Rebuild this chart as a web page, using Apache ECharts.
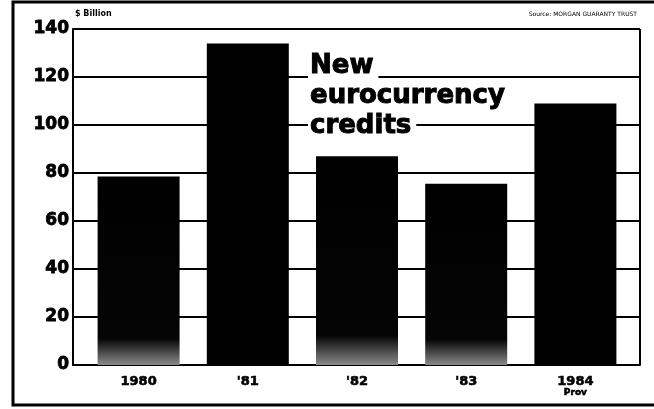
<!DOCTYPE html>
<html>
<head>
<meta charset="utf-8">
<script src="https://cdn.jsdelivr.net/npm/echarts@6/dist/echarts.min.js"></script>
<style>
html,body{margin:0;padding:0;background:#fff;}
#c{width:654px;height:409px;}
</style>
</head>
<body>
<div id="c"></div>
<script>
var categories = ['1980', "'81", "'82", "'83", '1984'];
var values = [78.5, 134, 87, 75.5, 109];
var faded = [true, false, true, true, false];
var yTicks = [0, 20, 40, 60, 80, 100, 120, 140];
var titleLines = ['New', 'eurocurrency', 'credits'];
var unitLabel = '$ Billion';
var sourceLabel = 'Source: MORGAN GUARANTY TRUST';

var chart = echarts.init(document.getElementById('c'), null, {renderer: 'canvas'});

var barData = values.map(function (v, i) {
  var item = {value: v};
  if (faded[i]) {
    item.itemStyle = {
      color: new echarts.graphic.LinearGradient(0, 0, 0, 1, [
        {offset: 0, color: '#000'},
        {offset: 0.86, color: '#050505'},
        {offset: 1, color: '#8a8a8a'}
      ])
    };
  }
  return item;
});

var option = {
  backgroundColor: '#fff',
  animation: false,
  grid: [
    {left: 73, right: 14, top: 29, bottom: 44, containLabel: false},
    {left: 84, right: 24, top: 29, bottom: 44, containLabel: false}
  ],
  title: {
    left: 303,
    top: 46,
    text: titleLines.map(function (t) { return '{a|' + t + '}'; }).join('\n'),
    textStyle: {
      rich: {
        a: {
          fontFamily: 'DejaVu Sans',
          fontWeight: 'bold',
          fontSize: 26,
          lineHeight: 30,
          color: '#000',
          backgroundColor: '#fff',
          padding: [0, 5, 0, 2],
          textBorderColor: '#000',
          textBorderWidth: 1
        }
      }
    },
    z: 10
  },
  xAxis: [
    {
      gridIndex: 0,
      type: 'value',
      min: 0, max: 1,
      axisLine: {show: true, onZero: false, lineStyle: {color: '#000', width: 2}},
      axisTick: {show: false},
      axisLabel: {show: false},
      splitLine: {show: false}
    },
    {
      gridIndex: 1,
      type: 'category',
      data: categories,
      axisLine: {show: false},
      axisTick: {show: false},
      axisLabel: {
        color: '#000',
        fontFamily: 'DejaVu Sans',
        fontWeight: 'bold',
        fontSize: 13,
        margin: 10,
        lineHeight: 13,
        textBorderColor: '#000',
        textBorderWidth: 0.6,
        formatter: function (v) {
          return v === '1984' ? v + '\n{s|Prov}' : v;
        },
        rich: {
          s: {fontFamily: 'DejaVu Sans', fontWeight: 'bold', fontSize: 9, lineHeight: 9, color: '#000'}
        }
      }
    }
  ],
  yAxis: [
    {
      gridIndex: 0,
      type: 'value',
      min: 0,
      max: 140,
      interval: 20,
      axisLine: {show: true, lineStyle: {color: '#000', width: 2}},
      axisTick: {show: false},
      splitLine: {show: true, lineStyle: {color: '#000', width: 2}},
      axisLabel: {
        color: '#000',
        fontFamily: 'DejaVu Sans',
        fontWeight: 'bold',
        fontSize: 17,
        margin: 4,
        textBorderColor: '#000',
        textBorderWidth: 0.8,
        formatter: function (v) { return yTicks.indexOf(v) >= 0 ? String(v) : ''; }
      }
    },
    {
      gridIndex: 1,
      type: 'value',
      min: 0,
      max: 140,
      interval: 20,
      show: false,
      splitLine: {show: false}
    }
  ],
  series: [{
    type: 'bar',
    xAxisIndex: 1,
    yAxisIndex: 1,
    data: barData,
    barWidth: 82,
    itemStyle: {color: '#000'},
    z: 3
  }],
  graphic: [
    {type: 'line', shape: {x1: 640, y1: 29, x2: 640, y2: 365}, style: {stroke: '#000', lineWidth: 2}, z: 5},
    {type: 'rect', shape: {x: 13, y: 2, width: 660, height: 403}, style: {fill: 'none', stroke: '#000', lineWidth: 3}, z: 5},
    {type: 'text', left: 75, top: 10, style: {text: unitLabel, font: 'bold 8px "DejaVu Sans"', fill: '#000'}},
    {type: 'text', right: 17, top: 11, style: {text: sourceLabel, font: '6px "DejaVu Sans"', fill: '#000'}}
  ]
};
chart.setOption(option);
</script>
</body>
</html>
